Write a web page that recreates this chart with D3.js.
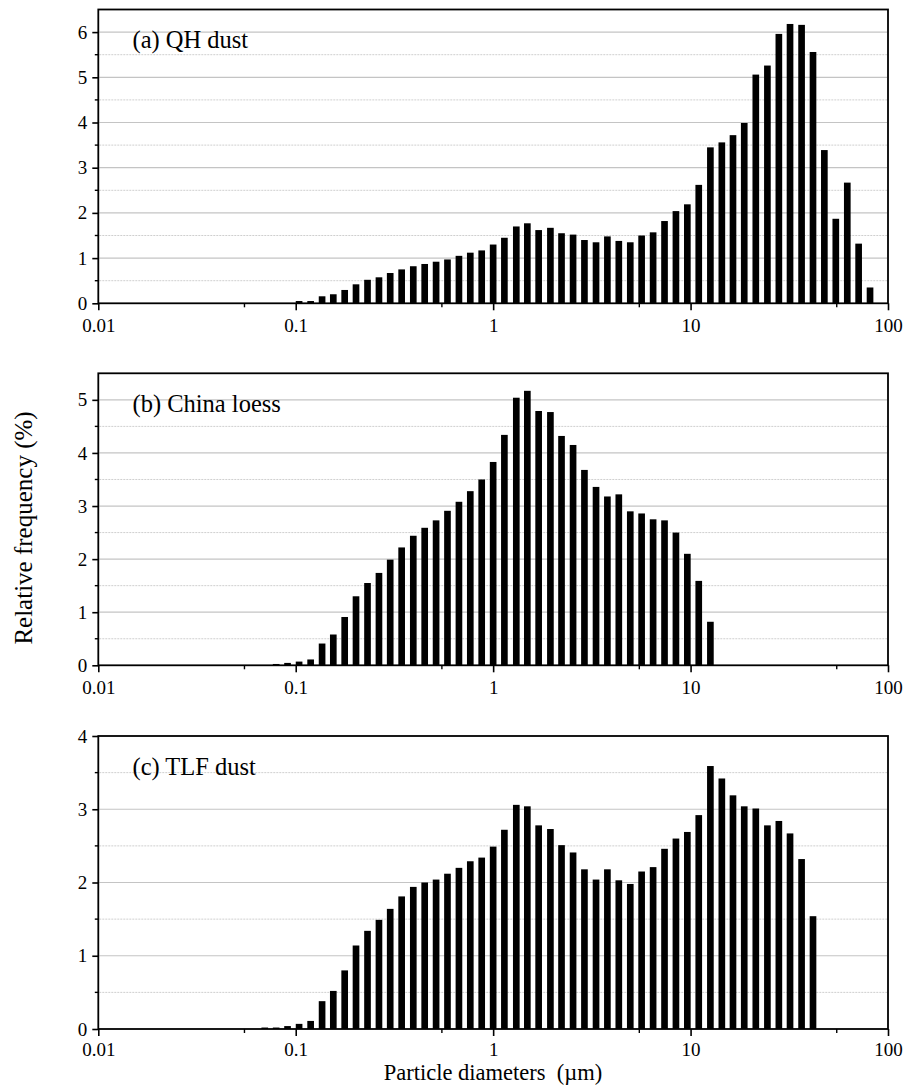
<!DOCTYPE html>
<html>
<head>
<meta charset="utf-8">
<script src="https://cdn.jsdelivr.net/npm/d3@7"></script>
<style>
  html, body { margin: 0; padding: 0; background: #fff; }
  svg text { font-family: "Liberation Serif", "Tinos", "Times New Roman", serif; }
</style>
</head>
<body>
<svg id="chart" width="907" height="1089"></svg>
<script>
// Size-bin centres (µm), shared by all three samples
const diameters = [0.0697, 0.0796, 0.0909, 0.104, 0.119, 0.136, 0.155, 0.177, 0.202, 0.231,
  0.264, 0.301, 0.344, 0.394, 0.450, 0.514, 0.587, 0.671, 0.766, 0.875,
  1.00, 1.14, 1.31, 1.49, 1.70, 1.95, 2.22, 2.54, 2.90, 3.32,
  3.79, 4.33, 4.95, 5.65, 6.46, 7.38, 8.43, 9.63, 11.0, 12.6,
  14.4, 16.4, 18.7, 21.4, 24.5, 28.0, 31.9, 36.5, 41.7, 47.6,
  54.4, 62.2, 71.0, 81.1];

// Relative frequency (%) per bin; each series begins at the given bin index
const qhDust = [0.05, 0.05, 0.155, 0.20, 0.295, 0.42, 0.52, 0.575, 0.67, 0.75,
  0.82, 0.87, 0.92, 0.97, 1.05, 1.12, 1.17, 1.30, 1.45, 1.70,
  1.77, 1.62, 1.67, 1.55, 1.52, 1.40, 1.35, 1.48, 1.38, 1.35,
  1.50, 1.57, 1.82, 2.04, 2.19, 2.62, 3.45, 3.56, 3.72, 3.99,
  5.06, 5.26, 5.96, 6.18, 6.16, 5.56, 3.39, 1.87, 2.67, 1.32, 0.35];
const qhDustStart = 3;

const chinaLoess = [0.025, 0.045, 0.07, 0.11, 0.41, 0.58, 0.91, 1.30, 1.55, 1.74,
  1.99, 2.22, 2.44, 2.59, 2.73, 2.91, 3.08, 3.28, 3.50, 3.83,
  4.34, 5.04, 5.17, 4.79, 4.77, 4.32, 4.15, 3.68, 3.36, 3.18,
  3.22, 2.90, 2.86, 2.75, 2.73, 2.50, 2.10, 1.59, 0.82];
const chinaLoessStart = 1;

const tlfDust = [0.02, 0.02, 0.04, 0.07, 0.11, 0.38, 0.52, 0.80, 1.14, 1.34,
  1.49, 1.64, 1.81, 1.94, 2.00, 2.04, 2.12, 2.20, 2.29, 2.34,
  2.49, 2.72, 3.06, 3.04, 2.78, 2.73, 2.51, 2.41, 2.18, 2.04,
  2.18, 2.03, 1.98, 2.15, 2.21, 2.46, 2.60, 2.69, 2.92, 3.59,
  3.42, 3.19, 3.04, 3.01, 2.78, 2.84, 2.67, 2.32, 1.54];
const tlfDustStart = 0;

const panelTitles = ["(a) QH dust", "(b) China loess", "(c) TLF dust"];
const yMaxes = [6.5, 5.5, 4];
const xTickValues = [0.01, 0.1, 1, 10, 100];
const xTickLabels = ["0.01", "0.1", "1", "10", "100"];
const xMinorTicks = [0.055, 0.55, 5.5, 55];

const panels = [
  { title: panelTitles[0], values: qhDust, start: qhDustStart, yMax: yMaxes[0], top: 9.5, bottom: 303.3, pad: 8 },
  { title: panelTitles[1], values: chinaLoess, start: chinaLoessStart, yMax: yMaxes[1], top: 373.3, bottom: 665.3, pad: 8 },
  { title: panelTitles[2], values: tlfDust, start: tlfDustStart, yMax: yMaxes[2], top: 736, bottom: 1029, pad: 6.5 }
];

const serif = '"Liberation Serif", "Tinos", "Times New Roman", serif';
const svg = d3.select("#chart");
const left = 98.3, right = 888;

const x = d3.scaleLog().domain([0.01, 100]).range([left, right]);
const barW = 0.585 * (x(diameters[1]) - x(diameters[0]));

panels.forEach(p => {
  const y = d3.scaleLinear().domain([0, p.yMax]).range([p.bottom, p.top]);
  const g = svg.append("g");

  const majorTicks = d3.range(0, Math.floor(p.yMax) + 1);
  const gridMajors = majorTicks.filter(v => v > 0 && v < p.yMax);
  const minors = d3.range(0.5, p.yMax, 1);

  // grid lines
  g.selectAll("line.minor-grid").data(minors).join("line")
    .attr("x1", left + 1).attr("x2", right - 1)
    .attr("y1", d => y(d)).attr("y2", d => y(d))
    .attr("stroke", "#cfcfcf").attr("stroke-width", 1)
    .attr("stroke-dasharray", "2,1");
  g.selectAll("line.major-grid").data(gridMajors).join("line")
    .attr("x1", left + 1).attr("x2", right - 1)
    .attr("y1", d => y(d)).attr("y2", d => y(d))
    .attr("stroke", "#c4c4c4").attr("stroke-width", 1.2);

  // bars
  const rows = p.values.map((v, i) => ({ d: diameters[p.start + i], v }));
  g.selectAll("rect.bar").data(rows).join("rect")
    .attr("x", r => x(r.d) - barW / 2)
    .attr("width", barW)
    .attr("y", r => y(r.v))
    .attr("height", r => y(0) - y(r.v))
    .attr("fill", "#000");

  // y axis
  const yAxis = d3.axisLeft(y).tickValues(majorTicks).tickSize(6).tickPadding(5)
    .tickFormat(d3.format("d"));
  const ya = g.append("g").attr("transform", `translate(${left},0)`).call(yAxis);
  ya.attr("font-family", serif);
  ya.select(".domain").remove();
  ya.selectAll(".tick line").attr("stroke", "#000").attr("stroke-width", 1.6);
  ya.selectAll(".tick text").attr("font-size", 19).attr("fill", "#000");
  g.selectAll("line.ytick-minor").data(minors).join("line")
    .attr("x1", left - 3.5).attr("x2", left)
    .attr("y1", d => y(d)).attr("y2", d => y(d))
    .attr("stroke", "#000").attr("stroke-width", 1.4);

  // x axis
  const xAxis = d3.axisBottom(x).tickValues(xTickValues).tickSize(7).tickPadding(p.pad)
    .tickFormat((d, i) => xTickLabels[i]);
  const xa = g.append("g").attr("transform", `translate(0,${p.bottom})`).call(xAxis);
  xa.attr("font-family", serif);
  xa.select(".domain").remove();
  xa.selectAll(".tick line").attr("stroke", "#000").attr("stroke-width", 1.6);
  xa.selectAll(".tick text").attr("font-size", 19).attr("fill", "#000");
  g.selectAll("line.xtick-minor").data(xMinorTicks).join("line")
    .attr("x1", d => x(d)).attr("x2", d => x(d))
    .attr("y1", p.bottom).attr("y2", p.bottom + 4)
    .attr("stroke", "#000").attr("stroke-width", 1.4);

  // frame
  g.append("rect")
    .attr("x", left).attr("y", p.top)
    .attr("width", right - left).attr("height", p.bottom - p.top)
    .attr("fill", "none").attr("stroke", "#000").attr("stroke-width", 1.8);

  // panel title
  g.append("text")
    .attr("x", 132.5).attr("y", p.top + 38.8)
    .attr("font-family", serif)
    .attr("font-size", 24.5).attr("fill", "#000")
    .text(p.title);
});

// axis titles
svg.append("text")
  .attr("transform", "translate(31.5,528) rotate(-90)")
  .attr("text-anchor", "middle")
  .attr("font-family", serif)
  .attr("font-size", 25).attr("fill", "#000")
  .text("Relative frequency (%)");

svg.append("text")
  .attr("x", 493).attr("y", 1079.5)
  .attr("text-anchor", "middle")
  .attr("font-family", serif)
  .attr("font-size", 22.5).attr("fill", "#000")
  .style("white-space", "pre")
  .text("Particle diameters  (\u00b5m)");
</script>
</body>
</html>
